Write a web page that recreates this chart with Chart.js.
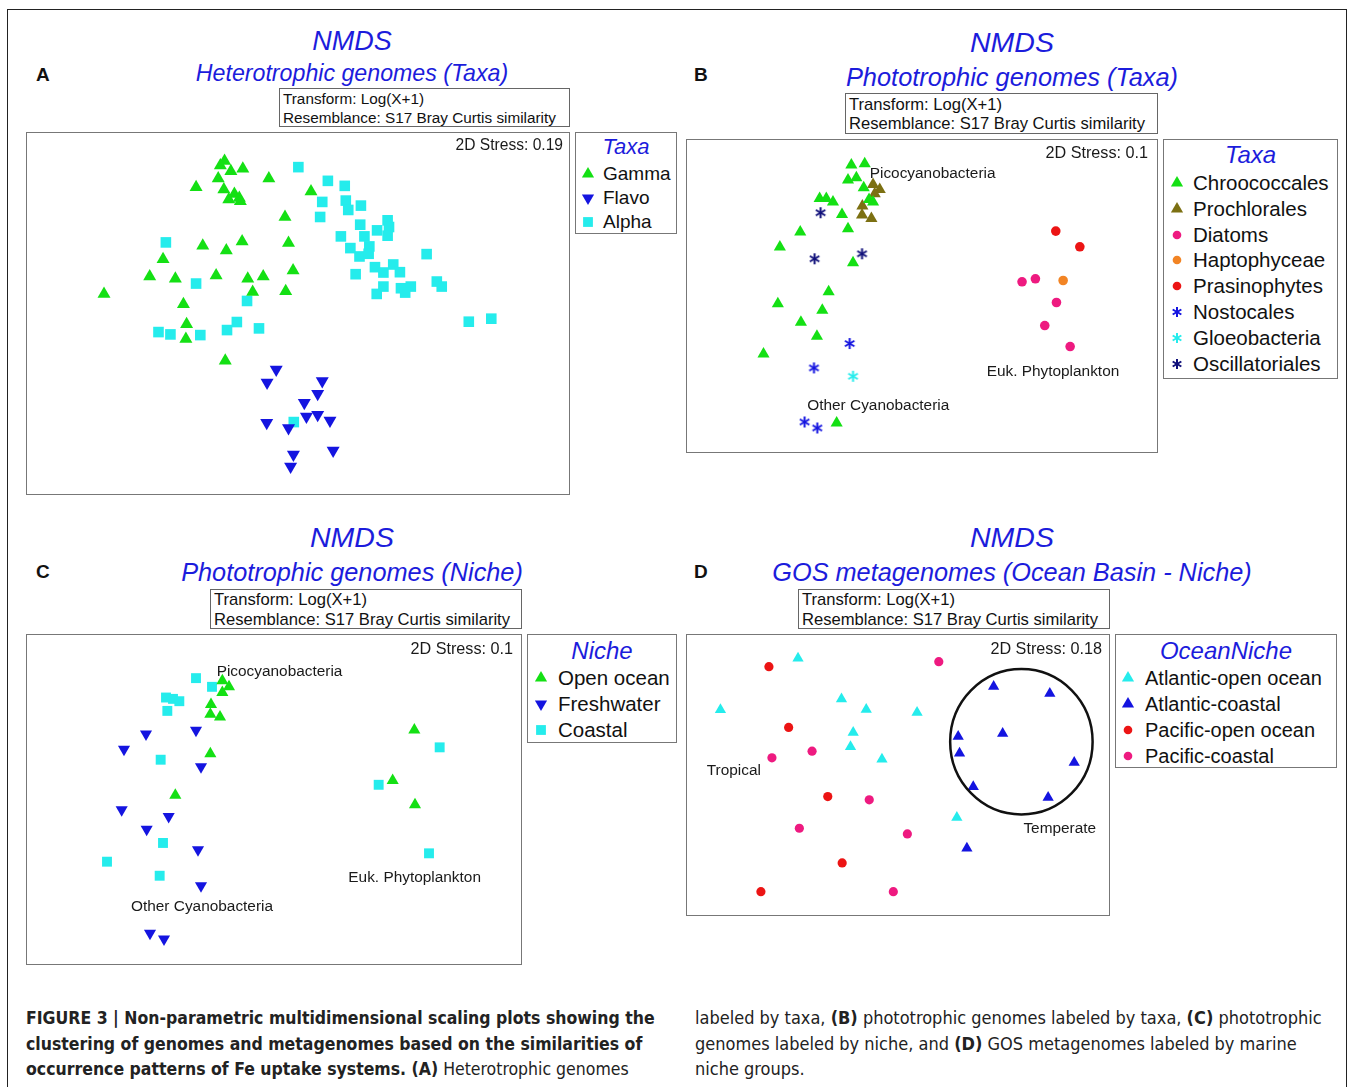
<!DOCTYPE html>
<html>
<head>
<meta charset="utf-8">
<script src="https://cdn.jsdelivr.net/npm/chart.js"></script>
<style>
    body { margin: 0; background: #fff; font-family: "Liberation Sans", Arial, sans-serif; }
    #page { position: relative; width: 1354px; height: 1087px; overflow: hidden; background: #fff; }
    .frame { position: absolute; left: 7px; top: 9px; width: 1338px; height: 1100px; border: 1px solid #222; border-bottom: none; }
    .abs { position: absolute; white-space: nowrap; }
    .ttl { color: #1c1cdc; font-style: italic; text-align: center; transform: translate(-50%, -50%); }
    .letter { font-weight: bold; font-size: 19px; color: #111; transform: translateY(-50%); }
    .tbox { position: absolute; border: 1.5px solid #666; box-sizing: border-box; color: #111; padding-left: 3px; }
    .tbox div { position: absolute; left: 3px; transform: translateY(-50%); white-space: nowrap; }
    .plotbox { position: absolute; border: 1.5px solid #777; box-sizing: border-box; pointer-events: none; }
    .legend { position: absolute; border: 1.5px solid #777; box-sizing: border-box; color: #111; }
    .legend .lt { position: absolute; left: 0; right: 0; text-align: center; color: #1c1cdc; font-style: italic; transform: translateY(-50%); }
    .legend .li { position: absolute; white-space: nowrap; transform: translateY(-50%); }
    .legend canvas { position: absolute; }
    canvas.plot { position: absolute; }
    .cap { position: absolute; white-space: nowrap; font-family: "Liberation Sans Narrow", "DejaVu Sans Condensed", sans-serif; font-size: 18px; color: #222; transform-origin: 0 50%; }
</style>
</head>
<body>
<div id="page">
    <div class="frame"></div>
</div>
<script>
// NMDS ordinations: coordinates in arbitrary NMDS units
// (x to the right, y downward as drawn).

// ---- A: heterotrophic genomes, by taxa
const aNames = ['Gamma', 'Flavo', 'Alpha'];
const aGamma = [[570,95],[558,108],[588,125],[622,118],[552,147],[489,173],[696,147],[568,180],[598,193],[582,210],[612,205],[615,215],[816,186],[742,262],[508,348],[575,362],[620,335],[752,340],[395,388],[357,440],[430,447],[546,437],[636,447],[680,440],[765,422],[227,492],[650,486],[744,484],[453,523],[462,583],[460,627],[572,692]];
const aFlavo = [[717,718],[691,757],[848,752],[835,790],[797,817],[803,858],[835,853],[870,870],[690,877],[752,893],[766,972],[879,960],[758,1008]];
const aAlpha = [[780,113],[864,154],[912,169],[848,217],[915,213],[958,228],[922,241],[842,262],[956,285],[1034,272],[1004,302],[1038,292],[1034,318],[901,320],[968,320],[982,350],[928,355],[954,380],[980,372],[1145,373],[998,412],[1050,404],[1022,428],[1069,427],[943,433],[1022,470],[1072,475],[1100,470],[1084,488],[1003,492],[1174,455],[1188,470],[1265,575],[1329,566],[403,338],[489,461],[634,513],[605,576],[577,600],[668,595],[382,606],[416,613],[501,615],[767,875]];

// ---- B: phototrophic genomes, by taxa
const bNames = ['Chroococcales', 'Prochlorales', 'Diatoms', 'Haptophyceae', 'Prasinophytes', 'Nostocales', 'Gloeobacteria', 'Oscillatoriales'];
const bChroo = [[500,92],[540,88],[490,137],[515,130],[537,160],[405,192],[425,192],[445,203],[553,195],[565,203],[472,240],[490,283],[347,293],[286,338],[505,385],[432,472],[280,508],[413,527],[349,563],[397,605],[237,658],[456,865]];
const bProchl = [[565,150],[585,165],[570,178],[533,215],[532,242],[560,252]];
const bDiatoms = [[1011,442],[1051,433],[1114,504],[1079,573],[1155,636]];
const bHapto = [[1134,438]];
const bPrasino = [[1112,290],[1184,337]];
const bNosto = [[495,627],[388,700],[360,862],[398,880]];
const bGloeo = [[505,725]];
const bOscill = [[408,235],[390,373],[532,358]];
const bLabels = ['Picocyanobacteria', 'Euk. Phytoplankton', 'Other Cyanobacteria'];
const bLabelAt = [[555,117],[905,712],[368,812]];

// ---- C: phototrophic genomes, by niche
const cNames = ['Open ocean', 'Freshwater', 'Coastal'];
const cOpen = [[594,155],[614,173],[594,190],[560,226],[558,255],[587,263],[558,373],[453,497],[1170,302],[1105,453],[1172,526]];
const cFresh = [[365,314],[515,303],[299,360],[530,412],[292,541],[433,561],[367,599],[521,660],[530,768],[377,910],[419,927]];
const cCoastal = [[515,147],[563,173],[425,205],[446,209],[465,216],[429,245],[409,391],[416,640],[248,696],[406,738],[1246,354],[1063,466],[1214,671]];
const cLabels = ['Picocyanobacteria', 'Euk. Phytoplankton', 'Other Cyanobacteria'];
const cLabelAt = [[577,128],[972,745],[320,832]];

// ---- D: GOS metagenomes, by ocean basin / niche
const dNames = ['Atlantic-open ocean', 'Atlantic-coastal', 'Pacific-open ocean', 'Pacific-coastal'];
const dAtlOpen = [[343,88],[111,242],[473,210],[547,241],[699,250],[508,310],[500,353],[594,390],[818,565]];
const dAtlCoast = [[928,172],[1096,193],[822,322],[955,313],[826,372],[1169,400],[867,473],[1091,505],[848,657]];
const dPacOpen = [[256,113],[315,295],[432,502],[475,701],[232,787]];
const dPacCoast = [[764,98],[385,366],[265,386],[556,512],[347,597],[670,614],[628,787]];
const dLabels = ['Tropical', 'Temperate'];
const dLabelAt = [[70,425],[1017,600]];
const dTemperate = { x: 1011, y: 338, rx: 213, ry: 218 };

const GREEN = '#14e014', BLUE = '#1414e0', CYAN = '#25ecec', NAVY = '#10107a',
      OLIVE = '#7c7012', PINK = '#ee1a80', ORANGE = '#f28424', RED = '#ec1414';
const page = document.getElementById('page');

function el(cls, css, html) {
    const d = document.createElement('div');
    d.className = cls;
    Object.assign(d.style, css);
    if (html !== undefined) d.innerHTML = html;
    page.appendChild(d);
    return d;
}

function asterisk(color, size) {
    const c = document.createElement('canvas');
    c.width = c.height = size;
    const g = c.getContext('2d');
    g.strokeStyle = color;
    g.lineWidth = 2;
    const m = size / 2, r = size / 2 - 1;
    for (let k = 0; k < 3; k++) {
        const a = Math.PI / 2 + k * Math.PI / 3;
        g.beginPath();
        g.moveTo(m + Math.cos(a) * r, m - Math.sin(a) * r);
        g.lineTo(m - Math.cos(a) * r, m + Math.sin(a) * r);
        g.stroke();
    }
    return c;
}

function drawMark(g, shape, color, x, y, r) {
    g.fillStyle = color;
    g.beginPath();
    if (shape === 'up' || shape === 'down') {
        const s = shape === 'up' ? 1 : -1;
        g.moveTo(x, y - s * r);
        g.lineTo(x + r * 0.87, y + s * r * 0.5);
        g.lineTo(x - r * 0.87, y + s * r * 0.5);
        g.closePath();
        g.fill();
    } else if (shape === 'rect') {
        g.fillRect(x - r * 0.7, y - r * 0.7, r * 1.4, r * 1.4);
    } else if (shape === 'circle') {
        g.arc(x, y, r * 0.62, 0, Math.PI * 2);
        g.fill();
    } else {
        g.drawImage(asterisk(color, 12), x - 6, y - 6);
    }
}

function header(cx, y1, y2, sub, fs1, fs2, letter, lx, ly) {
    el('abs ttl', { left: cx + 'px', top: y1 + 'px', fontSize: fs1 + 'px' }, 'NMDS');
    el('abs ttl', { left: cx + 'px', top: y2 + 'px', fontSize: fs2 + 'px' }, sub);
    el('abs letter', { left: lx + 'px', top: ly + 'px' }, letter);
}

function transformBox(l, t, w, h, fs) {
    const b = el('tbox', { left: l + 'px', top: t + 'px', width: w + 'px', height: h + 'px', fontSize: fs + 'px' });
    b.innerHTML = '<div style="top:' + (h * 0.26) + 'px">Transform: Log(X+1)</div>' +
                  '<div style="top:' + (h * 0.74) + 'px">Resemblance: S17 Bray Curtis similarity</div>';
}

function legendBox(l, t, w, h, title, tfs, ty, names, colors, shapes, fs, y0, dy, mx, tx) {
    const b = el('legend', { left: l + 'px', top: t + 'px', width: w + 'px', height: h + 'px' });
    b.innerHTML = '<div class="lt" style="top:' + ty + 'px;font-size:' + tfs + 'px">' + title + '</div>';
    names.forEach((n, i) => {
        const y = y0 + i * dy;
        const c = document.createElement('canvas');
        c.width = c.height = 14;
        c.style.left = (mx - 7) + 'px';
        c.style.top = (y - 7) + 'px';
        drawMark(c.getContext('2d'), shapes[i], colors[i], 7, 7, 7);
        b.appendChild(c);
        const d = document.createElement('div');
        d.className = 'li';
        d.style.left = tx + 'px';
        d.style.top = y + 'px';
        d.style.fontSize = fs + 'px';
        d.textContent = n;
        b.appendChild(d);
    });
}

const notesPlugin = {
    id: 'notes',
    afterDatasetsDraw(chart, args, opts) {
        const g = chart.ctx, xs = chart.scales.x, ys = chart.scales.y, a = chart.chartArea;
        g.save();
        g.fillStyle = '#1a1a1a';
        g.textBaseline = 'middle';
        g.font = opts.fs + 'px "Liberation Sans", Arial, sans-serif';
        (opts.labels || []).forEach((t, i) => {
            g.textAlign = 'left';
            g.fillText(t, xs.getPixelForValue(opts.at[i][0]), ys.getPixelForValue(opts.at[i][1]));
        });
        g.textAlign = 'right';
        g.font = opts.sfs + 'px "Liberation Sans", Arial, sans-serif';
        g.fillText('2D Stress: ' + opts.stress, a.right - opts.sx, a.top + opts.sy);
        if (opts.ring) {
            const r = opts.ring;
            const cx = xs.getPixelForValue(r.x), cy = ys.getPixelForValue(r.y);
            g.strokeStyle = '#111';
            g.lineWidth = 2.5;
            g.beginPath();
            g.ellipse(cx, cy, Math.abs(xs.getPixelForValue(r.x + r.rx) - cx), Math.abs(ys.getPixelForValue(r.y + r.ry) - cy), 0, 0, Math.PI * 2);
            g.stroke();
        }
        g.restore();
    }
};

function style(shape, color) {
    if (shape === 'up') return { pointStyle: 'triangle', pointRotation: 0 };
    if (shape === 'down') return { pointStyle: 'triangle', pointRotation: 180 };
    if (shape === 'star') return { pointStyle: asterisk(color, 13), pointRotation: 0 };
    return { pointStyle: shape, pointRotation: 0 };
}

function scatterPanel(l, t, w, h, xr, yr, sets, colors, shapes, radii, notes) {
    const c = document.createElement('canvas');
    c.className = 'plot';
    c.width = w;
    c.height = h;
    c.style.left = l + 'px';
    c.style.top = t + 'px';
    page.appendChild(c);
    el('plotbox', { left: l + 'px', top: t + 'px', width: w + 'px', height: h + 'px' });
    new Chart(c.getContext('2d'), {
        type: 'scatter',
        data: {
            datasets: sets.map((pts, i) => Object.assign({
                data: pts.map(p => ({ x: p[0], y: p[1] })),
                pointRadius: radii[i],
                pointBackgroundColor: colors[i],
                pointBorderColor: colors[i],
                pointBorderWidth: 0
            }, style(shapes[i], colors[i])))
        },
        options: {
            responsive: false,
            animation: false,
            events: [],
            layout: { padding: 0, autoPadding: false },
            plugins: { legend: { display: false }, tooltip: { enabled: false }, notes: notes },
            scales: {
                x: { type: 'linear', display: false, min: xr[0], max: xr[1] },
                y: { type: 'linear', display: false, min: yr[0], max: yr[1], reverse: true }
            }
        },
        plugins: [notesPlugin]
    });
}

// ---- Panel A
header(352, 41, 73, 'Heterotrophic genomes (Taxa)', 27, 23.2, 'A', 36, 75);
transformBox(279, 88, 291, 39, 15.3);
scatterPanel(26, 132, 544, 363, [5, 1553], [8, 1093],
    [aGamma, aFlavo, aAlpha], [GREEN, BLUE, CYAN], ['up', 'down', 'rect'], [7.5, 7.5, 7.5],
    { stress: '0.19', sx: 7, sy: 14, sfs: 15.6, fs: 15 });
legendBox(575, 132, 102, 102, 'Taxa', 22, 14, aNames, [GREEN, BLUE, CYAN], ['up', 'down', 'rect'], 19, 41, 24, 12, 27);

// ---- Panel B
header(1012, 42, 77, 'Phototrophic genomes (Taxa)', 28.5, 25.4, 'B', 694, 75);
transformBox(845, 93, 313, 41, 16.6);
scatterPanel(686, 139, 472, 314, [5, 1418], [14, 955],
    [bChroo, bProchl, bDiatoms, bHapto, bPrasino, bNosto, bGloeo, bOscill],
    [GREEN, OLIVE, PINK, ORANGE, RED, BLUE, CYAN, NAVY],
    ['up', 'up', 'circle', 'circle', 'circle', 'star', 'star', 'star'],
    [7, 7, 4.8, 4.8, 4.8, 6, 6, 6],
    { labels: bLabels, at: bLabelAt, stress: '0.1', sx: 10, sy: 15, sfs: 16.2, fs: 15.4 });
legendBox(1163, 139, 175, 240, 'Taxa', 24, 15, bNames,
    [GREEN, OLIVE, PINK, ORANGE, RED, BLUE, CYAN, NAVY],
    ['up', 'up', 'circle', 'circle', 'circle', 'star', 'star', 'star'], 20.5, 43, 25.8, 13, 29);

// ---- Panel C
header(352, 537, 572, 'Phototrophic genomes (Niche)', 28.5, 25.3, 'C', 36, 572);
transformBox(210, 589, 312, 40, 16.6);
scatterPanel(26, 634, 496, 331, [5, 1493], [15, 1005],
    [cOpen, cFresh, cCoastal], [GREEN, BLUE, CYAN], ['up', 'down', 'rect'], [7, 7, 7],
    { labels: cLabels, at: cLabelAt, stress: '0.1', sx: 9, sy: 16, sfs: 16.2, fs: 15.4 });
legendBox(527, 634, 150, 109, 'Niche', 24, 16, cNames, [GREEN, BLUE, CYAN], ['up', 'down', 'rect'], 20.5, 43, 26, 13, 30);

// ---- Panel D
header(1012, 537, 572, 'GOS metagenomes (Ocean Basin - Niche)', 28.5, 25.3, 'D', 694, 572);
transformBox(798, 589, 312, 40, 16.6);
scatterPanel(686, 634, 424, 282, [8, 1276], [15, 860],
    [dAtlOpen, dAtlCoast, dPacOpen, dPacCoast], [CYAN, BLUE, RED, PINK], ['up', 'up', 'circle', 'circle'], [6.5, 6.5, 4.6, 4.6],
    { labels: dLabels, at: dLabelAt, stress: '0.18', sx: 8, sy: 16, sfs: 16.2, fs: 15.4, ring: dTemperate });
legendBox(1115, 634, 222, 134, 'OceanNiche', 24, 16, dNames, [CYAN, BLUE, RED, PINK], ['up', 'up', 'circle', 'circle'], 20, 43, 26, 12, 29);

// ---- Caption
const capLeft = [
    '<b>FIGURE 3 | Non-parametric multidimensional scaling plots showing the</b>',
    '<b>clustering of genomes and metagenomes based on the similarities of</b>',
    '<b>occurrence patterns of Fe uptake systems. (A)</b> Heterotrophic genomes'
];
const capRight = [
    'labeled by taxa, <b>(B)</b> phototrophic genomes labeled by taxa, <b>(C)</b> phototrophic',
    'genomes labeled by niche, and <b>(D)</b> GOS metagenomes labeled by marine',
    'niche groups.'
];
capLeft.forEach((t, i) => el('cap', { left: '26px', top: (1017 + i * 25.5) + 'px', transform: 'translateY(-50%) scaleX(0.972)' }, t));
capRight.forEach((t, i) => el('cap', { left: '695px', top: (1017 + i * 25.5) + 'px', transform: 'translateY(-50%)' }, t));
</script>
</body>
</html>
